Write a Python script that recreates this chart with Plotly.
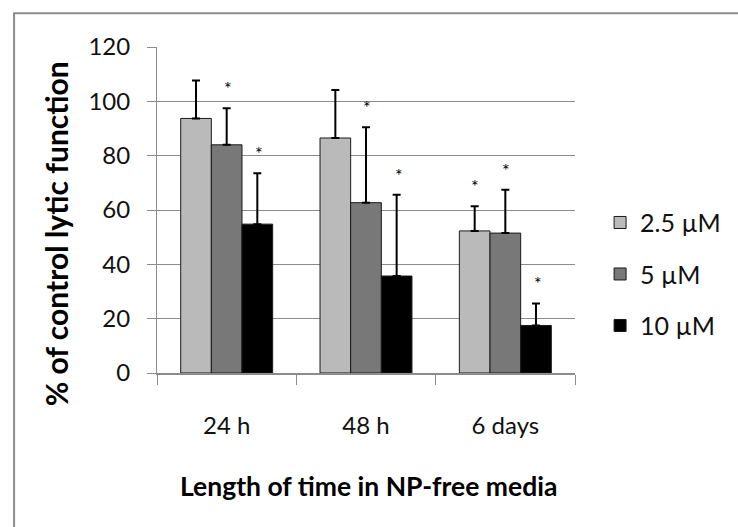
import plotly.graph_objects as go

categories = ["24 h", "48 h", "6 days"]
series_names = ["2.5 \u00b5M", "5 \u00b5M", "10 \u00b5M"]
values_25 = [93.7, 86.5, 52.3]
values_5 = [84.0, 62.7, 51.5]
values_10 = [54.8, 35.7, 17.5]
err_25 = [14.0, 17.7, 9.1]
err_5 = [13.5, 27.8, 16.0]
err_10 = [18.7, 29.9, 8.1]
sig_25 = [False, False, True]
sig_5 = [True, True, True]
sig_10 = [True, True, True]
y_ticks = [0, 20, 40, 60, 80, 100, 120]

colors = ["#BABABA", "#787878", "#000000"]
FONT = "Lato"

fig = go.Figure()
all_vals = [values_25, values_5, values_10]
all_errs = [err_25, err_5, err_10]
all_sig = [sig_25, sig_5, sig_10]
for i, name in enumerate(series_names):
    fig.add_trace(go.Bar(
        x=categories, y=all_vals[i], name=name,
        marker=dict(color=colors[i], line=dict(color="#1a1a1a", width=1)),
        error_y=dict(type="data", array=all_errs[i], arrayminus=[0] * 3,
                     symmetric=False, color="#000000", thickness=2, width=4),
        legendgroup=f"g{i}",
    ))

# significance stars above the error bars
for i in range(3):
    for j, c in enumerate(categories):
        if all_sig[i][j]:
            fig.add_annotation(
                x=c, y=all_vals[i][j] + all_errs[i][j], xref="x", yref="y",
                text="*", showarrow=False, yanchor="bottom", yshift=7,
                xshift=(i - 1) * 31.7 + 1,
                font=dict(family=FONT, size=18, color="#000000"))

fig.update_layout(
    width=738, height=527,
    margin=dict(l=157, r=151, t=47, b=154),
    paper_bgcolor="white", plot_bgcolor="white",
    bargap=0.34, bargroupgap=0,
    font=dict(family=FONT, size=24, color="#111111"),
    showlegend=True,
    legend=dict(x=1.06, y=0.303, xanchor="left", yanchor="middle",
                tracegroupgap=16, font=dict(family=FONT, size=25),
                itemwidth=30, bgcolor="rgba(0,0,0,0)"),
)
fig.update_xaxes(
    type="category", showline=True, linecolor="#8c8c8c", linewidth=2,
    ticks="outside", tickson="boundaries", ticklen=10, tickcolor="#8c8c8c",
    tickwidth=1, showgrid=False, ticklabelstandoff=30,
    tickfont=dict(family=FONT, size=24, color="#111111"),
)
fig.update_yaxes(
    range=[0, 120], tickvals=y_ticks, showline=True, linecolor="#8c8c8c",
    linewidth=1, ticks="outside", ticklen=9, tickcolor="#8c8c8c",
    showgrid=True, gridcolor="#8c8c8c", gridwidth=1, zeroline=False,
    ticklabelstandoff=12,
    tickfont=dict(family=FONT, size=24, color="#111111"),
)

# axis titles
fig.add_annotation(text="% of control lytic function", textangle=-90,
                   x=-0.2395, y=0.428, xref="paper", yref="paper",
                   showarrow=False, xanchor="center", yanchor="middle",
                   font=dict(family=FONT, size=30, color="#000000", weight="bold"))
fig.add_annotation(text="Length of time in NP-free media",
                   x=0.505, y=-0.348, xref="paper", yref="paper",
                   showarrow=False, xanchor="center", yanchor="middle",
                   font=dict(family=FONT, size=26.5, color="#000000", weight="bold"))

# outer chart border
fig.add_shape(type="rect", xref="paper", yref="paper",
              x0=-0.3419, y0=-0.6, x1=1.4, y1=1.1032,
              line=dict(color="#8c8c8c", width=2), layer="above")

fig.write_html("out.html")
